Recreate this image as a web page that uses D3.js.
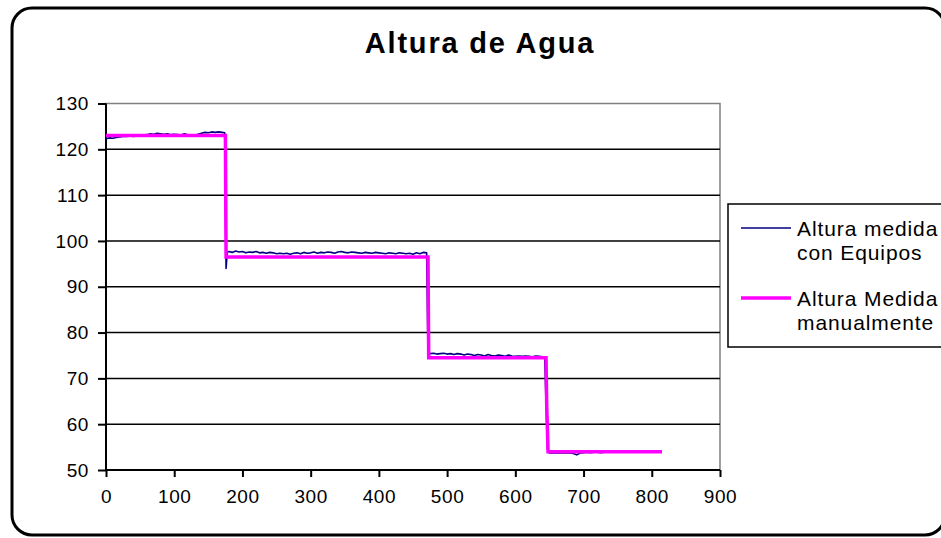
<!DOCTYPE html>
<html>
<head>
<meta charset="utf-8">
<script src="https://cdn.jsdelivr.net/npm/d3@7"></script>
<style>
  html, body { margin: 0; padding: 0; background: #fff; }
  svg { display: block; }
  text { font-family: "Liberation Sans", Arial, sans-serif; fill: #000; }
</style>
</head>
<body>
<svg id="chart" width="941" height="538"></svg>
<script>
// ---- Data ----
const title = "Altura de Agua";
const seriesNames = ["Altura medida con Equipos", "Altura Medida manualmente"];
const xTicks = [0, 100, 200, 300, 400, 500, 600, 700, 800, 900];
const yTicks = [50, 60, 70, 80, 90, 100, 110, 120, 130];

// Series 1: measured with equipment (time, height)
const equipT = [0,5,10,15,20,25,30,35,40,45,50,55,60,65,70,75,80,85,90,95,100,105,110,115,120,125,130,135,140,145,150,155,160,165,170,174,
  176,177,178,
  180,185,190,195,200,205,210,215,220,225,230,235,240,245,250,255,260,265,270,275,280,285,290,295,300,305,310,315,320,325,330,335,340,345,350,355,360,365,370,375,380,385,390,395,400,405,410,415,420,425,430,435,440,445,450,455,460,465,470,
  472,
  475,480,485,490,495,500,505,510,515,520,525,530,535,540,545,550,555,560,565,570,575,580,585,590,595,600,605,610,615,620,625,630,635,640,643,
  644,645,646,647,
  650,655,660,665,670,675,680,685,690,695,700,705,710,715,720,725,730,735,740,745,750,755,760,765,770,775,780,785,790,795,800,805,810,815];
const equipV = [122.3,122.5,122.4,122.6,122.7,122.8,122.8,122.9,122.8,122.9,123.0,123.1,123.2,123.4,123.3,123.5,123.4,123.3,123.4,123.2,123.3,123.2,123.1,123.4,123.2,123.0,122.9,123.3,123.5,123.7,123.6,123.8,123.7,123.8,123.7,123.6,
  94.0,96.0,97.6,
  97.7,97.5,97.8,97.6,97.7,97.4,97.6,97.5,97.7,97.4,97.5,97.3,97.5,97.4,97.2,97.3,97.2,97.3,97.1,97.3,97.4,97.2,97.5,97.3,97.4,97.6,97.3,97.5,97.4,97.6,97.5,97.3,97.6,97.7,97.5,97.4,97.6,97.5,97.4,97.3,97.5,97.4,97.3,97.5,97.4,97.3,97.2,97.4,97.3,97.2,97.4,97.3,97.2,97.3,97.1,97.4,97.2,97.5,97.4,
  75.5,
  75.4,75.5,75.3,75.4,75.5,75.3,75.4,75.2,75.4,75.3,75.1,75.3,75.2,75.0,75.2,75.1,74.9,75.2,75.0,74.9,75.1,75.0,74.8,75.1,74.9,74.8,74.9,74.8,74.9,74.8,74.7,74.9,74.8,74.7,74.6,
  70.0,64.5,60.0,54.5,
  53.7,53.8,53.7,53.8,53.7,53.8,53.7,53.6,53.3,53.7,53.8,53.9,53.8,53.9,53.9,53.8,53.9,54.0,53.9,53.9,54.1,54.0,53.9,54.0,53.9,54.0,53.9,54.0,54.0,53.9,54.0,53.9,54.0,54.0];

// Series 2: measured manually (time, height)
const manualT = [0, 175, 176, 472, 473, 645, 646, 648, 815];
const manualV = [123, 123, 96.5, 96.5, 74.5, 74.5, 64, 54, 54];

// ---- Layout ----
const svg = d3.select("#chart");
const plot = { left: 106, right: 720, top: 103.5, bottom: 470 };

const x = d3.scaleLinear().domain([0, 900]).range([plot.left, plot.right]);
const y = d3.scaleLinear().domain([50, 130]).range([plot.bottom, plot.top]);

// Outer rounded frame
svg.append("rect")
  .attr("x", 12).attr("y", 8)
  .attr("width", 933).attr("height", 527)
  .attr("rx", 20).attr("ry", 20)
  .attr("fill", "#fff").attr("stroke", "#000").attr("stroke-width", 3);

// Title
svg.append("text")
  .attr("x", 480).attr("y", 53)
  .attr("text-anchor", "middle")
  .style("font-size", "29px").style("font-weight", "bold")
  .style("letter-spacing", "1.8px")
  .text(title);

// Plot area border (grey top/right)
svg.append("rect")
  .attr("x", plot.left).attr("y", plot.top)
  .attr("width", plot.right - plot.left).attr("height", plot.bottom - plot.top)
  .attr("fill", "#fff").attr("stroke", "#808080").attr("stroke-width", 1.5);

// Gridlines
svg.append("g").selectAll("line")
  .data(yTicks.filter(d => d !== 50 && d !== 130))
  .join("line")
  .attr("x1", plot.left).attr("x2", plot.right)
  .attr("y1", d => y(d)).attr("y2", d => y(d))
  .attr("stroke", "#000").attr("stroke-width", 1.5);

// Axes
const yAxis = d3.axisLeft(y).tickValues(yTicks).tickSize(8).tickPadding(9).tickFormat(d3.format("d"));
const gy = svg.append("g").attr("transform", `translate(${plot.left},0)`).call(yAxis);
const xAxis = d3.axisBottom(x).tickValues(xTicks).tickSize(7).tickPadding(8).tickFormat(d3.format("d"));
const gx = svg.append("g").attr("transform", `translate(0,${plot.bottom})`).call(xAxis);

[gx, gy].forEach(g => {
  g.select(".domain").attr("stroke", "#000").attr("stroke-width", 2);
  g.selectAll(".tick line").attr("stroke", "#000").attr("stroke-width", 2);
  g.selectAll(".tick text")
    .attr("fill", "#000")
    .style("font-family", "'Liberation Sans', Arial, sans-serif")
    .style("font-size", "19px")
    .style("letter-spacing", "0.6px");
});
gy.select(".domain").attr("d", `M0,${plot.top}V${plot.bottom}`);
gx.select(".domain").attr("d", `M${plot.left},0H${plot.right}`);
gx.selectAll(".tick text").attr("dy", "0.95em");

// Lines
const line = d3.line().x(d => x(d[0])).y(d => y(d[1]));
const equipData = equipT.map((t, i) => [t, equipV[i]]);
const manualData = manualT.map((t, i) => [t, manualV[i]]);

svg.append("path").datum(equipData)
  .attr("d", line).attr("fill", "none")
  .attr("stroke", "#000080").attr("stroke-width", 1.6).attr("stroke-linejoin", "round");

svg.append("path").datum(manualData)
  .attr("d", line).attr("fill", "none")
  .attr("stroke", "#ff00ff").attr("stroke-width", 3.5).attr("stroke-linejoin", "miter");

// Legend
const lg = svg.append("g");
lg.append("rect")
  .attr("x", 728).attr("y", 204).attr("width", 220).attr("height", 143)
  .attr("fill", "#fff").attr("stroke", "#000").attr("stroke-width", 1.5);

const legendItems = [
  { color: "#000080", width: 1.6, y: 228, lines: ["Altura medida", "con Equipos"] },
  { color: "#ff00ff", width: 3.5, y: 298, lines: ["Altura Medida", "manualmente"] }
];
legendItems.forEach(item => {
  lg.append("line")
    .attr("x1", 741).attr("x2", 791)
    .attr("y1", item.y).attr("y2", item.y)
    .attr("stroke", item.color).attr("stroke-width", item.width);
  item.lines.forEach((t, i) => {
    lg.append("text")
      .attr("x", 797).attr("y", item.y + 8 + i * 24)
      .style("font-size", "21px")
      .style("letter-spacing", "0.9px")
      .text(t);
  });
});
</script>
</body>
</html>
